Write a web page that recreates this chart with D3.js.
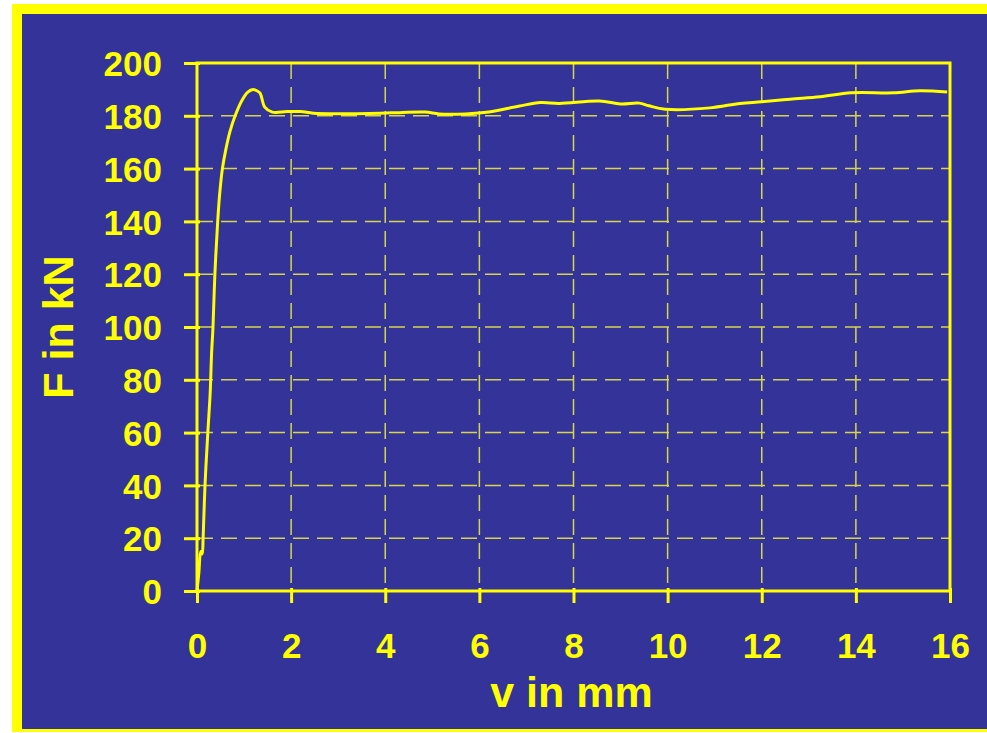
<!DOCTYPE html>
<html>
<head>
<meta charset="utf-8">
<script src="https://cdn.jsdelivr.net/npm/d3@7"></script>
<style>
  body { margin: 0; background: #fff; }
  svg { display: block; font-family: "Liberation Sans", Arial, sans-serif; font-weight: bold; }
</style>
</head>
<body>
<svg id="chart" width="987" height="733"></svg>
<script>
// displacement v in mm and force F in kN
var vMM = [0, 0.04, 0.08, 0.11, 0.13, 0.17, 0.23, 0.28, 0.31, 0.34, 0.38, 0.44, 0.48, 0.54, 0.61, 0.70, 0.81,
  0.96, 1.08, 1.19, 1.27, 1.34, 1.44, 1.6, 1.91, 2.2, 2.47, 3.0, 3.9, 4.3, 4.85, 5.15, 5.7, 6.2,
  6.85, 7.3, 7.7, 8.55, 9.0, 9.4, 9.6, 9.95, 10.9, 11.54, 12.0, 12.6, 13.24, 13.9, 14.8, 15.36, 15.94];
var fKN = [0, 7, 15, 14, 20, 40, 60, 75, 90, 100, 120, 140, 150, 160, 167, 174, 180,
  186, 189, 190, 189.5, 188.6, 183.3, 181.4, 181.6, 181.6, 181, 180.8, 181, 181.2, 181.4, 180.7, 180.7, 181.4,
  183.7, 185, 184.7, 185.6, 184.5, 184.8, 183.8, 182.5, 183, 184.7, 185.3, 186.3, 187.2, 188.7, 188.7, 189.5, 189];
var xTicks = [0, 2, 4, 6, 8, 10, 12, 14, 16];
var yTicks = [0, 20, 40, 60, 80, 100, 120, 140, 160, 180, 200];

chart();

function chart() {
  var yellow = "#ffff00", blue = "#333399", gridCol = "#d6d64a";

  var svg = d3.select("#chart");

  // outer frame
  svg.append("rect").attr("x", 12).attr("y", 4).attr("width", 987 - 12).attr("height", 728).attr("fill", yellow);
  svg.append("rect").attr("x", 22).attr("y", 14).attr("width", 987 - 22).attr("height", 715).attr("fill", blue);

  var margin = { top: 63, right: 37, bottom: 142, left: 197 },
    pLeft = margin.left, pRight = 987 - margin.right,
    pTop = margin.top, pBottom = 733 - margin.bottom;

  var x = d3.scaleLinear().domain([0, 16]).range([pLeft, pRight]);
  var y = d3.scaleLinear().domain([0, 200]).range([pBottom, pTop]);

  // grid
  svg.append("g").selectAll("line").data(xTicks.slice(1, -1)).join("line")
    .attr("x1", d => x(d)).attr("x2", d => x(d)).attr("y1", pTop).attr("y2", pBottom)
    .attr("stroke", gridCol).attr("stroke-width", 1.5).attr("stroke-dasharray", "16,8");
  svg.append("g").selectAll("line").data(yTicks.slice(1, -1)).join("line")
    .attr("y1", d => y(d)).attr("y2", d => y(d)).attr("x1", pLeft).attr("x2", pRight)
    .attr("stroke", gridCol).attr("stroke-width", 1.5).attr("stroke-dasharray", "16,8");

  // plot border
  svg.append("rect").attr("x", pLeft).attr("y", pTop).attr("width", pRight - pLeft).attr("height", pBottom - pTop)
    .attr("fill", "none").attr("stroke", yellow).attr("stroke-width", 3);

  // axes
  var xAxis = svg.append("g").attr("transform", "translate(0," + pBottom + ")")
    .call(d3.axisBottom(x).tickValues(xTicks).tickSize(12).tickPadding(37));
  var yAxis = svg.append("g").attr("transform", "translate(" + pLeft + ",0)")
    .call(d3.axisLeft(y).tickValues(yTicks).tickSize(13).tickPadding(22));
  [xAxis, yAxis].forEach(function (a) {
    a.select(".domain").remove();
    a.selectAll(".tick line").attr("stroke", yellow).attr("stroke-width", 3);
    a.selectAll(".tick text").attr("fill", yellow).attr("font-size", 35)
      .attr("font-family", "Liberation Sans, Arial, sans-serif").attr("font-weight", "bold");
  });
  xAxis.selectAll(".tick line").attr("y1", -3);
  yAxis.selectAll(".tick line").attr("x1", 3);
  yAxis.selectAll(".tick text").attr("dy", "0.36em");
  xAxis.selectAll(".tick text").attr("dy", "0.5em");

  // curve
  var pts = vMM.map((v, i) => [v, fKN[i]]);
  svg.append("path").datum(pts)
    .attr("d", d3.line().x(d => x(d[0])).y(d => y(d[1])).curve(d3.curveCatmullRom.alpha(0.5)))
    .attr("fill", "none").attr("stroke", yellow).attr("stroke-width", 3).attr("stroke-linejoin", "round");

  // titles
  svg.append("text").attr("x", (pLeft + pRight) / 2 - 2).attr("y", 707)
    .attr("text-anchor", "middle").attr("fill", yellow).attr("font-size", 43).text("v in mm");
  svg.append("text").attr("transform", "translate(73," + ((pTop + pBottom) / 2) + ") rotate(-90)")
    .attr("text-anchor", "middle").attr("fill", yellow).attr("font-size", 43).text("F in kN");
}
</script>
</body>
</html>
